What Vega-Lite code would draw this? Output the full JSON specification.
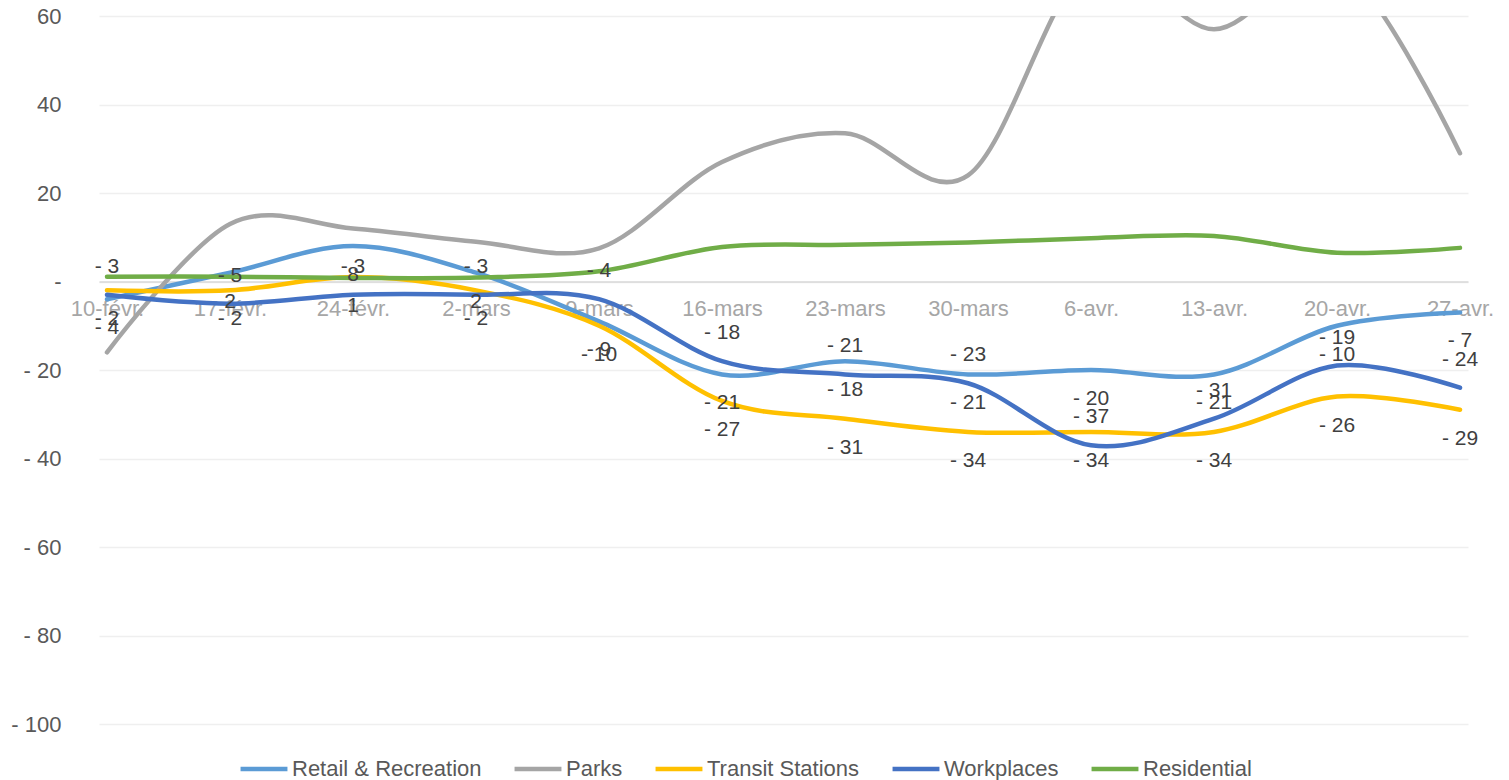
{
  "$schema": "https://vega.github.io/schema/vega-lite/v6.json",
  "width": 1369,
  "height": 708,
  "autosize": {"type": "none"},
  "padding": {"left": 99, "top": 16, "right": 41, "bottom": 56},
  "background": "white",
  "config": {"view": {"stroke": null}, "font": "Liberation Sans"},
  "data": {"values": [
    {"date": "10-févr.", "series": "Retail & Recreation", "value": -4},
    {"date": "17-févr.", "series": "Retail & Recreation", "value": 2},
    {"date": "24-févr.", "series": "Retail & Recreation", "value": 8},
    {"date": "2-mars", "series": "Retail & Recreation", "value": 2},
    {"date": "9-mars", "series": "Retail & Recreation", "value": -9},
    {"date": "16-mars", "series": "Retail & Recreation", "value": -21},
    {"date": "23-mars", "series": "Retail & Recreation", "value": -18},
    {"date": "30-mars", "series": "Retail & Recreation", "value": -21},
    {"date": "6-avr.", "series": "Retail & Recreation", "value": -20},
    {"date": "13-avr.", "series": "Retail & Recreation", "value": -21},
    {"date": "20-avr.", "series": "Retail & Recreation", "value": -10},
    {"date": "27-avr.", "series": "Retail & Recreation", "value": -7},
    {"date": "10-févr.", "series": "Parks", "value": -16},
    {"date": "17-févr.", "series": "Parks", "value": 13},
    {"date": "24-févr.", "series": "Parks", "value": 12},
    {"date": "2-mars", "series": "Parks", "value": 9},
    {"date": "9-mars", "series": "Parks", "value": 7.5},
    {"date": "16-mars", "series": "Parks", "value": 27},
    {"date": "23-mars", "series": "Parks", "value": 33.5},
    {"date": "30-mars", "series": "Parks", "value": 24},
    {"date": "6-avr.", "series": "Parks", "value": 72},
    {"date": "13-avr.", "series": "Parks", "value": 57},
    {"date": "20-avr.", "series": "Parks", "value": 72},
    {"date": "27-avr.", "series": "Parks", "value": 29},
    {"date": "10-févr.", "series": "Transit Stations", "value": -2},
    {"date": "17-févr.", "series": "Transit Stations", "value": -2},
    {"date": "24-févr.", "series": "Transit Stations", "value": 1},
    {"date": "2-mars", "series": "Transit Stations", "value": -2},
    {"date": "9-mars", "series": "Transit Stations", "value": -10},
    {"date": "16-mars", "series": "Transit Stations", "value": -27},
    {"date": "23-mars", "series": "Transit Stations", "value": -31},
    {"date": "30-mars", "series": "Transit Stations", "value": -34},
    {"date": "6-avr.", "series": "Transit Stations", "value": -34},
    {"date": "13-avr.", "series": "Transit Stations", "value": -34},
    {"date": "20-avr.", "series": "Transit Stations", "value": -26},
    {"date": "27-avr.", "series": "Transit Stations", "value": -29},
    {"date": "10-févr.", "series": "Workplaces", "value": -3},
    {"date": "17-févr.", "series": "Workplaces", "value": -5},
    {"date": "24-févr.", "series": "Workplaces", "value": -3},
    {"date": "2-mars", "series": "Workplaces", "value": -3},
    {"date": "9-mars", "series": "Workplaces", "value": -4},
    {"date": "16-mars", "series": "Workplaces", "value": -18},
    {"date": "23-mars", "series": "Workplaces", "value": -21},
    {"date": "30-mars", "series": "Workplaces", "value": -23},
    {"date": "6-avr.", "series": "Workplaces", "value": -37},
    {"date": "13-avr.", "series": "Workplaces", "value": -31},
    {"date": "20-avr.", "series": "Workplaces", "value": -19},
    {"date": "27-avr.", "series": "Workplaces", "value": -24},
    {"date": "10-févr.", "series": "Residential", "value": 1.1},
    {"date": "17-févr.", "series": "Residential", "value": 1.1},
    {"date": "24-févr.", "series": "Residential", "value": 0.8},
    {"date": "2-mars", "series": "Residential", "value": 0.9},
    {"date": "9-mars", "series": "Residential", "value": 2.3},
    {"date": "16-mars", "series": "Residential", "value": 7.8},
    {"date": "23-mars", "series": "Residential", "value": 8.3},
    {"date": "30-mars", "series": "Residential", "value": 8.8},
    {"date": "6-avr.", "series": "Residential", "value": 9.8},
    {"date": "13-avr.", "series": "Residential", "value": 10.3},
    {"date": "20-avr.", "series": "Residential", "value": 6.5},
    {"date": "27-avr.", "series": "Residential", "value": 7.6}
  ]},
  "transform": [
    {"calculate": "datum.value < 0 ? '- ' + abs(datum.value) : (datum.value == 0 ? '-' : '' + datum.value)", "as": "label"}
  ],
  "encoding": {
    "x": {
      "field": "date",
      "type": "ordinal",
      "sort": ["10-févr.", "17-févr.", "24-févr.", "2-mars", "9-mars", "16-mars", "23-mars", "30-mars", "6-avr.", "13-avr.", "20-avr.", "27-avr."],
      "scale": {"type": "point", "padding": 0.065},
      "axis": {
        "title": null,
        "orient": "bottom",
        "offset": -442.5,
        "grid": false,
        "ticks": false,
        "tickSize": 0,
        "domainColor": "#d9d9d9",
        "domainWidth": 1.3,
        "labelAngle": 0,
        "labelPadding": 17,
        "labelFontSize": 22,
        "labelColor": "#a6a6a6",
        "labelOverlap": false,
        "labelBound": false
      }
    },
    "y": {
      "field": "value",
      "type": "quantitative",
      "scale": {"domain": [-100, 60], "nice": false, "zero": false},
      "axis": {
        "title": null,
        "values": [-100, -80, -60, -40, -20, 0, 20, 40, 60],
        "labelExpr": "datum.value < 0 ? '- ' + abs(datum.value) : (datum.value == 0 ? '-\u00a0\u00a0\u00a0' : '' + datum.value)",
        "domain": false,
        "ticks": false,
        "grid": true,
        "gridColor": "#efefef",
        "gridWidth": 1.3,
        "labelFontSize": 22,
        "labelColor": "#595959",
        "labelPadding": 38
      }
    }
  },
  "layer": [
    {
      "mark": {"type": "line", "interpolate": "cardinal", "tension": 0, "strokeWidth": 4.5, "clip": true, "strokeCap": "round"},
      "encoding": {
        "color": {
          "field": "series",
          "type": "nominal",
          "scale": {
            "domain": ["Retail & Recreation", "Parks", "Transit Stations", "Workplaces", "Residential"],
            "range": ["#5b9bd5", "#a5a5a5", "#ffc000", "#4472c4", "#70ad47"]
          },
          "legend": {
            "orient": "none",
            "legendX": 139,
            "legendY": 727,
            "direction": "horizontal",
            "title": null,
            "symbolType": "stroke",
            "symbolSize": 2200,
            "symbolStrokeWidth": 4.5,
            "labelFontSize": 22,
            "labelColor": "#595959",
            "labelOffset": 2,
            "columnPadding": 23,
            "padding": 0,
            "labelLimit": 400
          }
        }
      }
    },
    {
      "transform": [{"filter": "datum.series == 'Workplaces'"}],
      "mark": {"type": "text", "dy": -28, "fontSize": 21, "color": "#404040", "baseline": "middle", "align": "center"},
      "encoding": {"text": {"field": "label", "type": "nominal"}}
    },
    {
      "transform": [{"filter": "datum.series == 'Retail & Recreation' || datum.series == 'Transit Stations'"}],
      "mark": {"type": "text", "dy": 29, "fontSize": 21, "color": "#404040", "baseline": "middle", "align": "center"},
      "encoding": {"text": {"field": "label", "type": "nominal"}}
    }
  ]
}
